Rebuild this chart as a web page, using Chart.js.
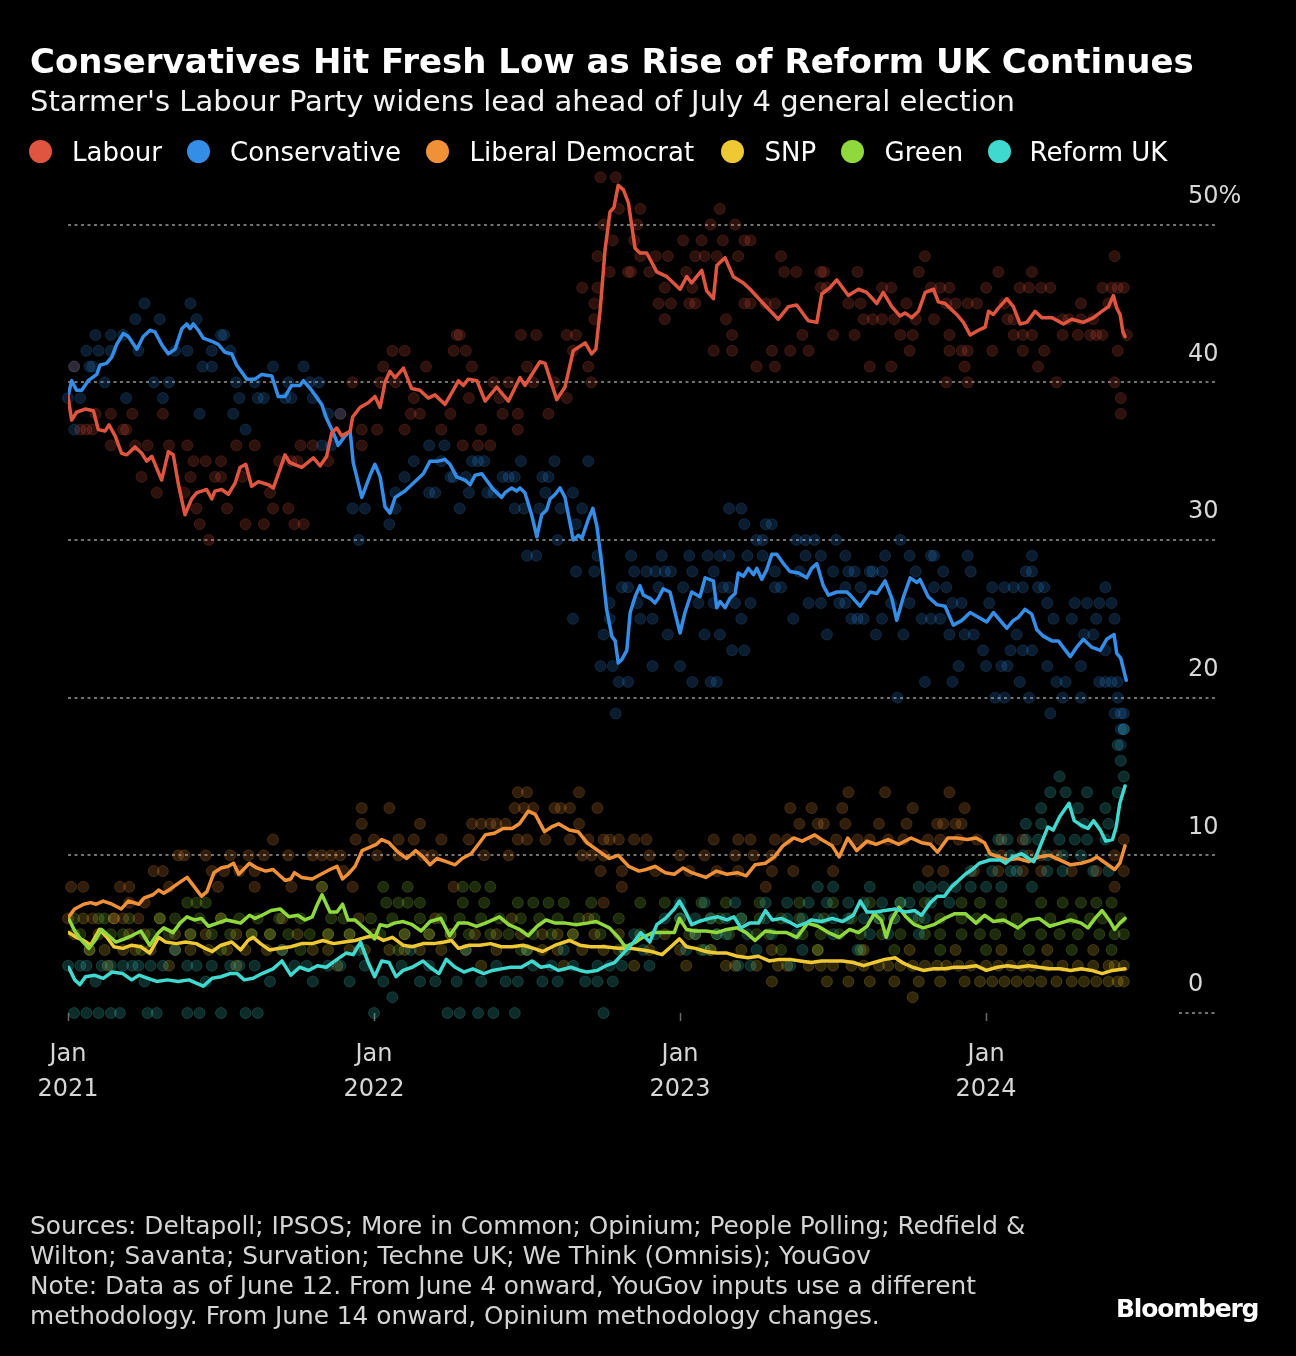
<!DOCTYPE html>
<html>
<head>
<meta charset="utf-8">
<script src="https://cdn.jsdelivr.net/npm/chart.js@4.4.1/dist/chart.umd.min.js"></script>
<style>
  html, body { margin:0; padding:0; background:#000; }
  body { width:1296px; height:1356px; position:relative; overflow:hidden; font-family:'DejaVu Sans', sans-serif; }
  #c { position:absolute; left:0; top:0; }
  .t { position:absolute; white-space:nowrap; z-index:2; line-height:1; }
  #title { left:30px; top:44px; font-size:34px; font-weight:bold; color:#fff; }
  #subtitle { left:30px; top:87px; font-size:29px; color:#f2f2f2; }
  .dot { position:absolute; width:23px; height:23px; border-radius:50%; z-index:2; top:139.5px; }
  .lg { top:139px; font-size:26px; color:#fff; }
  #footer { left:30px; top:1211px; font-size:24.8px; line-height:30px; color:#d4d4d4; }
  #brand { left:1116px; top:1296px; font-size:25px; font-weight:bold; color:#fff; letter-spacing:-1.2px; }
</style>
</head>
<body>
<canvas id="c" width="1296" height="1356"></canvas>
<div class="t" id="title">Conservatives Hit Fresh Low as Rise of Reform UK Continues</div>
<div class="t" id="subtitle">Starmer's Labour Party widens lead ahead of July 4 general election</div>
<div id="legend"></div>
<div class="t" id="footer">Sources: Deltapoll; IPSOS; More in Common; Opinium; People Polling; Redfield &amp;<br>Wilton; Savanta; Survation; Techne UK; We Think (Omnisis); YouGov<br>Note: Data as of June 12. From June 4 onward, YouGov inputs use a different<br>methodology. From June 14 onward, Opinium methodology changes.</div>
<div class="t" id="brand">Bloomberg</div>
<script>
// ---------- DATA ----------
const parties = ['Labour','Conservative','Liberal Democrat','SNP','Green','Reform UK'];
const xTickYears = [2021, 2022, 2023, 2024];
const yTickValues = [0, 10, 20, 30, 40, 50];

// Poll-average lines (x = decimal year, y = %)
const labourX = [2021.000,2021.012,2021.028,2021.056,2021.083,2021.099,2021.121,2021.134,2021.154,2021.175,2021.192,2021.219,2021.241,2021.257,2021.274,2021.306,2021.328,2021.344,2021.360,2021.382,2021.404,2021.421,2021.437,2021.453,2021.470,2021.480,2021.502,2021.524,2021.546,2021.562,2021.581,2021.600,2021.622,2021.655,2021.671,2021.693,2021.709,2021.725,2021.764,2021.802,2021.824,2021.845,2021.862,2021.878,2021.894,2021.922,2021.930,2021.954,2021.981,2022.003,2022.020,2022.036,2022.052,2022.069,2022.096,2022.123,2022.150,2022.177,2022.199,2022.232,2022.259,2022.276,2022.292,2022.308,2022.336,2022.363,2022.401,2022.439,2022.477,2022.493,2022.542,2022.559,2022.597,2022.624,2022.651,2022.690,2022.711,2022.725,2022.739,2022.755,2022.771,2022.784,2022.798,2022.815,2022.831,2022.853,2022.869,2022.891,2022.924,2022.957,2023.000,2023.022,2023.038,2023.071,2023.087,2023.109,2023.120,2023.147,2023.174,2023.207,2023.229,2023.272,2023.321,2023.354,2023.381,2023.419,2023.447,2023.463,2023.490,2023.512,2023.550,2023.583,2023.610,2023.643,2023.664,2023.692,2023.719,2023.735,2023.757,2023.779,2023.801,2023.828,2023.844,2023.866,2023.904,2023.926,2023.948,2023.975,2023.997,2024.008,2024.024,2024.040,2024.068,2024.089,2024.111,2024.133,2024.160,2024.182,2024.215,2024.253,2024.280,2024.318,2024.351,2024.378,2024.400,2024.416,2024.427,2024.438,2024.447,2024.454];
const labourY = [39.1,37.6,38.1,38.3,38.2,37.0,36.9,37.3,36.6,35.5,35.4,35.9,35.5,35.0,35.3,33.8,35.6,35.4,33.6,31.6,32.6,33.0,33.1,33.2,32.6,33.1,33.2,32.9,33.6,34.6,34.8,33.4,33.7,33.5,33.3,34.5,35.4,34.9,34.6,35.2,34.7,35.3,36.8,37.1,36.6,36.9,37.8,38.4,38.7,39.1,38.4,40.0,40.7,40.3,40.9,39.6,39.5,39.0,39.2,38.6,39.5,40.1,39.8,40.2,40.1,38.8,39.7,38.8,40.3,39.8,41.3,41.2,38.9,39.7,42.0,42.5,41.8,42.1,44.6,48.4,50.8,51.1,52.5,52.2,51.4,48.5,48.2,48.2,47.0,46.7,45.9,46.7,46.3,47.1,45.8,45.3,47.4,47.9,46.7,46.3,45.9,45.0,44.0,44.8,44.9,43.9,43.8,45.6,46.0,46.5,45.5,45.9,45.7,45.0,45.7,44.8,44.2,44.4,44.1,44.5,45.7,45.9,45.1,45.0,44.3,43.8,43.0,43.3,43.5,44.5,44.3,44.7,45.3,44.8,43.7,43.8,44.5,44.1,44.1,43.7,44.0,43.8,44.1,44.5,44.8,45.5,44.7,44.3,43.2,42.9];

const conX = [2021.000,2021.012,2021.028,2021.045,2021.066,2021.094,2021.105,2021.126,2021.143,2021.159,2021.181,2021.197,2021.225,2021.246,2021.268,2021.284,2021.306,2021.328,2021.350,2021.372,2021.388,2021.399,2021.409,2021.426,2021.442,2021.470,2021.491,2021.513,2021.535,2021.551,2021.584,2021.611,2021.633,2021.666,2021.687,2021.709,2021.731,2021.758,2021.769,2021.796,2021.829,2021.845,2021.867,2021.883,2021.905,2021.922,2021.932,2021.960,2021.987,2022.003,2022.020,2022.036,2022.052,2022.069,2022.101,2022.128,2022.161,2022.183,2022.210,2022.232,2022.248,2022.270,2022.297,2022.314,2022.330,2022.352,2022.390,2022.417,2022.428,2022.450,2022.466,2022.477,2022.493,2022.515,2022.532,2022.548,2022.564,2022.575,2022.592,2022.608,2022.624,2022.651,2022.668,2022.679,2022.700,2022.715,2022.728,2022.744,2022.760,2022.777,2022.788,2022.798,2022.809,2022.826,2022.837,2022.853,2022.869,2022.880,2022.902,2022.918,2022.929,2022.945,2022.967,2023.000,2023.016,2023.038,2023.065,2023.082,2023.109,2023.120,2023.131,2023.147,2023.163,2023.180,2023.190,2023.207,2023.223,2023.240,2023.251,2023.267,2023.283,2023.300,2023.316,2023.338,2023.359,2023.387,2023.414,2023.430,2023.447,2023.468,2023.485,2023.512,2023.545,2023.556,2023.588,2023.621,2023.643,2023.670,2023.692,2023.708,2023.730,2023.752,2023.774,2023.784,2023.811,2023.839,2023.866,2023.893,2023.921,2023.948,2023.975,2024.002,2024.024,2024.068,2024.089,2024.106,2024.127,2024.149,2024.166,2024.187,2024.215,2024.236,2024.275,2024.296,2024.318,2024.345,2024.373,2024.394,2024.418,2024.427,2024.440,2024.458];
const conY = [39.1,40.1,39.5,39.5,40.1,40.5,41.1,41.2,41.6,42.4,43.1,42.9,42.1,42.9,43.3,43.2,42.4,41.8,42.1,43.4,43.7,43.4,43.7,43.3,42.8,42.6,42.4,41.9,41.8,41.1,40.2,40.2,40.5,40.4,39.1,39.1,39.8,39.8,40.1,39.5,38.6,37.7,36.8,36.0,36.6,36.9,34.9,32.7,34.1,34.8,34.0,32.1,31.7,32.7,33.1,33.6,34.2,35.0,35.0,35.1,34.8,34.0,33.8,33.5,34.1,34.2,33.2,32.7,33.0,33.3,33.1,33.3,33.0,31.6,30.2,31.6,31.9,32.6,32.9,33.3,32.7,30.0,30.3,30.1,31.3,32.0,30.9,28.5,25.6,23.9,23.6,22.2,22.4,23.0,25.4,26.4,27.1,26.5,26.3,26.0,26.3,26.9,26.7,24.1,25.4,26.7,26.4,27.6,27.4,25.7,26.1,25.7,26.3,26.6,27.9,27.7,28.2,27.8,28.2,27.5,28.1,29.1,29.1,28.5,28.0,27.9,27.6,28.2,28.5,27.1,26.5,26.7,26.7,26.5,25.8,26.7,26.6,27.4,26.3,24.9,26.4,27.6,27.3,27.5,26.4,25.9,25.8,24.6,24.9,25.4,25.1,24.8,25.4,24.4,24.9,25.1,25.6,25.3,24.3,23.9,23.6,23.6,22.6,23.2,23.7,23.2,23.0,23.7,24.0,22.8,22.5,21.1];

const libDemX = [2021.002,2021.022,2021.051,2021.074,2021.092,2021.115,2021.144,2021.174,2021.197,2021.232,2021.249,2021.278,2021.296,2021.313,2021.337,2021.366,2021.389,2021.413,2021.436,2021.454,2021.477,2021.500,2021.524,2021.541,2021.558,2021.593,2021.617,2021.646,2021.670,2021.687,2021.710,2021.728,2021.740,2021.763,2021.798,2021.827,2021.856,2021.879,2021.897,2021.915,2021.938,2021.961,2021.985,2022.008,2022.025,2022.049,2022.078,2022.107,2022.136,2022.160,2022.183,2022.206,2022.236,2022.265,2022.288,2022.317,2022.341,2022.364,2022.393,2022.422,2022.451,2022.475,2022.504,2022.527,2022.557,2022.580,2022.603,2022.638,2022.667,2022.696,2022.732,2022.769,2022.798,2022.832,2022.866,2022.889,2022.918,2022.952,2022.981,2023.010,2023.038,2023.084,2023.119,2023.153,2023.187,2023.216,2023.245,2023.279,2023.308,2023.336,2023.371,2023.399,2023.440,2023.462,2023.497,2023.520,2023.548,2023.577,2023.611,2023.640,2023.680,2023.715,2023.755,2023.789,2023.818,2023.841,2023.875,2023.904,2023.938,2023.967,2023.995,2024.013,2024.041,2024.070,2024.104,2024.139,2024.173,2024.208,2024.242,2024.276,2024.311,2024.345,2024.362,2024.391,2024.420,2024.437,2024.454];
const libDemY = [6.1,6.6,6.9,7.0,6.9,7.1,6.9,6.6,7.1,6.9,7.3,7.5,7.8,7.6,7.9,8.3,8.6,8.0,7.4,7.7,8.9,9.2,9.3,9.5,8.8,9.5,9.2,9.0,9.1,8.8,8.4,8.5,8.9,8.6,8.5,8.8,9.1,9.3,8.5,8.8,9.3,10.3,10.5,10.7,11.0,10.8,10.2,9.8,10.3,9.9,9.4,9.8,9.6,9.4,9.8,10.1,10.7,11.3,11.4,11.7,11.7,12.0,12.8,12.6,11.5,11.8,12.0,11.6,11.5,10.8,10.3,9.8,10.0,9.3,9.0,9.1,9.3,8.9,8.8,9.2,8.9,8.6,9.0,8.8,8.9,8.7,9.4,9.5,9.9,10.6,11.1,10.9,11.3,11.0,10.6,9.9,11.1,10.3,10.9,10.7,11.0,10.7,11.1,10.8,10.7,10.2,11.1,11.1,11.0,11.1,10.8,10.1,9.9,9.7,9.8,9.6,9.9,10.0,9.7,9.4,9.5,9.7,9.9,9.5,9.1,9.5,10.6];

const snpX = [2021.002,2021.027,2021.051,2021.074,2021.103,2021.127,2021.150,2021.179,2021.208,2021.238,2021.267,2021.296,2021.319,2021.354,2021.384,2021.419,2021.448,2021.471,2021.500,2021.535,2021.564,2021.588,2021.605,2021.629,2021.658,2021.693,2021.728,2021.763,2021.798,2021.833,2021.868,2021.903,2021.938,2021.973,2022.002,2022.031,2022.060,2022.095,2022.125,2022.160,2022.195,2022.230,2022.253,2022.276,2022.311,2022.346,2022.381,2022.416,2022.451,2022.487,2022.522,2022.551,2022.592,2022.638,2022.673,2022.708,2022.752,2022.798,2022.838,2022.878,2022.907,2022.941,2022.970,2022.998,2023.021,2023.050,2023.084,2023.119,2023.153,2023.187,2023.222,2023.256,2023.291,2023.325,2023.359,2023.393,2023.428,2023.462,2023.497,2023.531,2023.566,2023.600,2023.634,2023.669,2023.703,2023.726,2023.760,2023.795,2023.829,2023.864,2023.898,2023.932,2023.967,2024.001,2024.036,2024.070,2024.104,2024.139,2024.173,2024.208,2024.242,2024.276,2024.311,2024.345,2024.379,2024.413,2024.454];
const snpY = [5.1,4.8,4.6,4.3,5.3,4.8,4.2,4.1,4.3,4.2,3.8,4.8,4.5,4.4,4.5,4.4,4.1,3.9,4.3,4.5,4.0,4.6,4.8,4.4,4.0,4.1,4.2,4.4,4.4,4.6,4.4,4.5,4.6,4.8,4.9,4.6,4.8,4.3,4.2,4.4,4.4,4.5,4.6,4.1,4.3,4.3,4.4,4.2,4.2,4.3,4.1,3.9,4.3,4.6,4.3,4.2,4.2,4.1,4.1,4.0,3.9,3.7,4.2,4.7,4.2,4.1,3.9,3.8,3.8,3.6,3.5,3.6,3.3,3.4,3.4,3.3,3.2,3.3,3.3,3.3,3.2,3.0,3.2,3.4,3.5,3.2,2.9,2.7,2.8,2.8,2.9,2.9,3.0,2.7,2.9,3.0,2.9,3.0,2.9,2.8,2.8,2.7,2.8,2.7,2.5,2.7,2.8];

const greenX = [2021.002,2021.022,2021.045,2021.068,2021.092,2021.109,2021.133,2021.156,2021.185,2021.208,2021.238,2021.267,2021.296,2021.313,2021.343,2021.366,2021.389,2021.413,2021.436,2021.459,2021.489,2021.518,2021.541,2021.564,2021.593,2021.611,2021.634,2021.664,2021.693,2021.722,2021.751,2021.775,2021.798,2021.815,2021.830,2021.856,2021.879,2021.897,2021.915,2021.938,2021.961,2021.985,2022.002,2022.020,2022.043,2022.066,2022.095,2022.125,2022.154,2022.183,2022.218,2022.247,2022.276,2022.306,2022.335,2022.364,2022.410,2022.440,2022.475,2022.504,2022.533,2022.562,2022.592,2022.626,2022.661,2022.696,2022.726,2022.769,2022.798,2022.821,2022.855,2022.878,2022.912,2022.947,2022.981,2022.998,2023.021,2023.050,2023.084,2023.119,2023.153,2023.187,2023.216,2023.245,2023.279,2023.313,2023.348,2023.382,2023.417,2023.451,2023.485,2023.520,2023.554,2023.583,2023.611,2023.634,2023.657,2023.674,2023.691,2023.715,2023.738,2023.766,2023.795,2023.829,2023.864,2023.898,2023.932,2023.967,2023.995,2024.024,2024.058,2024.104,2024.139,2024.173,2024.208,2024.242,2024.276,2024.311,2024.333,2024.356,2024.379,2024.402,2024.420,2024.437,2024.454];
const greenY = [6.0,5.2,4.6,4.1,4.7,5.3,4.9,4.5,4.7,4.9,5.2,4.3,5.1,5.4,5.1,5.7,6.1,5.9,6.0,5.5,5.7,5.9,5.8,5.7,6.2,6.0,6.2,6.5,6.6,6.1,6.2,5.9,6.1,6.9,7.5,6.4,6.4,6.9,5.9,5.9,5.5,5.1,4.7,5.6,5.5,5.7,5.8,5.6,5.2,5.8,6.0,4.9,5.7,5.7,5.5,5.7,6.1,5.6,5.3,4.9,5.5,5.9,5.7,5.7,5.6,5.7,5.8,5.4,4.8,4.2,4.5,4.8,5.1,5.1,5.1,6.0,5.3,5.2,5.2,5.1,5.3,5.4,5.1,4.6,5.2,5.1,5.1,4.8,5.7,5.5,5.1,4.8,5.3,5.1,5.5,6.3,5.9,4.8,5.9,6.7,6.1,5.6,5.4,5.6,6.0,6.3,6.3,5.7,6.2,5.8,5.9,5.4,5.9,6.0,5.5,5.7,5.9,5.7,5.4,6.0,6.5,5.9,5.3,5.7,6.0];

const reformX = [2021.002,2021.022,2021.039,2021.057,2021.086,2021.115,2021.144,2021.179,2021.208,2021.232,2021.261,2021.290,2021.325,2021.360,2021.395,2021.419,2021.442,2021.471,2021.500,2021.529,2021.553,2021.576,2021.605,2021.634,2021.670,2021.699,2021.728,2021.757,2021.786,2021.815,2021.844,2021.879,2021.909,2021.932,2021.956,2021.979,2022.002,2022.025,2022.049,2022.072,2022.095,2022.125,2022.160,2022.183,2022.212,2022.236,2022.265,2022.294,2022.323,2022.358,2022.387,2022.416,2022.446,2022.481,2022.516,2022.545,2022.574,2022.603,2022.644,2022.673,2022.696,2022.729,2022.758,2022.786,2022.815,2022.849,2022.872,2022.901,2022.924,2022.952,2022.981,2022.998,2023.021,2023.038,2023.061,2023.096,2023.124,2023.153,2023.176,2023.199,2023.227,2023.256,2023.279,2023.302,2023.331,2023.354,2023.382,2023.411,2023.428,2023.462,2023.497,2023.531,2023.566,2023.589,2023.611,2023.640,2023.669,2023.703,2023.738,2023.766,2023.789,2023.818,2023.841,2023.864,2023.887,2023.910,2023.932,2023.955,2023.978,2024.013,2024.047,2024.064,2024.087,2024.116,2024.139,2024.156,2024.179,2024.202,2024.219,2024.242,2024.271,2024.288,2024.311,2024.333,2024.351,2024.373,2024.391,2024.413,2024.425,2024.437,2024.454];
const reformY = [2.9,2.1,1.8,2.3,2.4,2.2,2.6,2.5,2.1,2.4,2.2,2.0,2.1,2.0,2.1,1.9,1.7,2.2,2.3,2.5,2.5,2.1,2.2,2.5,2.8,3.3,2.4,2.9,2.7,3.0,2.9,3.4,3.8,3.7,4.5,3.3,2.3,3.3,3.2,2.3,2.7,2.9,3.3,2.9,2.5,3.4,2.9,2.6,2.8,2.5,2.7,2.8,2.9,2.9,3.3,2.9,3.0,2.7,2.9,2.7,2.6,2.7,3.0,3.2,3.8,4.5,5.1,4.5,5.6,6.0,6.6,7.1,6.3,5.6,5.8,6.0,6.1,5.9,6.1,5.4,5.7,5.7,6.5,5.9,6.0,5.8,5.5,5.7,5.9,5.8,6.0,5.8,6.2,7.1,6.4,6.4,6.5,6.6,6.4,6.5,6.2,7.0,7.4,7.4,8.0,8.4,8.8,9.1,9.5,9.7,9.7,9.5,9.9,10.1,9.8,9.6,10.7,11.8,11.6,12.5,13.3,12.2,11.9,11.7,12.2,11.6,10.9,11.0,11.8,13.3,14.4];

// Individual polls: [decimal year, %]
const labourPolls = [[2022.28,43],[2022.06,42],[2022.10,42],[2022.26,42],[2022.30,42],[2021.02,41],[2022.03,41],[2022.17,41],[2022.32,41],[2021.93,40],[2022.02,40],[2022.07,40],[2022.13,39],[2022.31,39],[2021.09,38],[2021.14,38],[2021.21,38],[2021.31,38],[2021.89,38],[2022.12,38],[2022.15,38],[2022.25,38],[2021.04,37],[2021.06,37],[2021.08,37],[2021.18,37],[2021.19,37],[2021.96,37],[2022.01,37],[2022.10,37],[2022.22,37],[2021.14,36],[2021.22,36],[2021.26,36],[2021.33,36],[2021.39,36],[2021.55,36],[2021.61,36],[2021.76,36],[2021.80,36],[2021.96,36],[2022.29,36],[2021.41,35],[2021.45,35],[2021.50,35],[2021.69,35],[2021.73,35],[2021.75,35],[2021.85,35],[2021.24,34],[2021.40,34],[2021.48,34],[2021.50,34],[2021.57,34],[2021.29,33],[2021.38,33],[2021.66,33],[2021.42,32],[2021.52,32],[2021.67,32],[2021.72,32],[2021.43,31],[2021.58,31],[2021.64,31],[2021.74,31],[2021.77,31],[2021.46,30],[2022.74,53],[2022.79,53],[2022.80,51],[2022.87,51],[2023.13,51],[2022.75,50],[2022.86,50],[2023.10,50],[2023.18,50],[2022.78,49],[2022.85,49],[2023.01,49],[2023.07,49],[2023.14,49],[2023.21,49],[2023.23,49],[2022.73,48],[2022.87,48],[2022.92,48],[2022.96,48],[2023.05,48],[2023.08,48],[2023.12,48],[2023.19,48],[2023.33,48],[2023.80,48],[2024.42,48],[2022.77,47],[2022.83,47],[2022.84,47],[2022.90,47],[2023.02,47],[2023.34,47],[2023.38,47],[2023.46,47],[2023.47,47],[2023.58,47],[2023.78,47],[2024.04,47],[2024.15,47],[2022.68,46],[2022.73,46],[2022.95,46],[2023.04,46],[2023.46,46],[2023.48,46],[2023.66,46],[2023.69,46],[2023.82,46],[2023.85,46],[2023.88,46],[2024.00,46],[2024.11,46],[2024.14,46],[2024.18,46],[2024.21,46],[2024.38,46],[2024.41,46],[2024.43,46],[2024.45,46],[2022.72,45],[2022.93,45],[2022.97,45],[2023.03,45],[2023.05,45],[2023.21,45],[2023.23,45],[2023.28,45],[2023.31,45],[2023.55,45],[2023.59,45],[2023.74,45],[2023.87,45],[2023.90,45],[2023.94,45],[2023.97,45],[2024.06,45],[2024.31,45],[2024.40,45],[2022.72,44],[2022.95,44],[2023.15,44],[2023.60,44],[2023.63,44],[2023.66,44],[2023.70,44],[2023.77,44],[2023.83,44],[2024.07,44],[2024.09,44],[2024.25,44],[2024.27,44],[2024.31,44],[2024.35,44],[2022.27,43],[2022.48,43],[2022.53,43],[2022.63,43],[2022.66,43],[2023.17,43],[2023.40,43],[2023.50,43],[2023.57,43],[2023.72,43],[2023.76,43],[2023.88,43],[2024.09,43],[2024.12,43],[2024.15,43],[2024.25,43],[2024.30,43],[2024.34,43],[2024.36,43],[2024.38,43],[2024.46,43],[2022.65,42],[2023.11,42],[2023.17,42],[2023.30,42],[2023.36,42],[2023.42,42],[2023.75,42],[2023.88,42],[2023.92,42],[2023.94,42],[2024.02,42],[2024.12,42],[2024.19,42],[2024.43,42],[2022.50,41],[2022.70,41],[2023.25,41],[2023.31,41],[2023.62,41],[2023.69,41],[2023.93,41],[2024.17,41],[2022.39,40],[2022.44,40],[2022.52,40],[2022.59,40],[2022.71,40],[2023.87,40],[2023.94,40],[2024.23,40],[2024.42,40],[2022.41,39],[2022.63,39],[2024.44,39],[2022.42,38],[2022.47,38],[2022.57,38],[2024.44,38],[2022.35,37],[2022.47,37],[2022.34,36],[2022.38,36]];
const conPolls = [[2021.25,45],[2021.40,45],[2021.22,44],[2021.30,44],[2021.42,44],[2021.09,43],[2021.14,43],[2021.18,43],[2021.50,43],[2021.51,43],[2021.06,42],[2021.10,42],[2021.14,42],[2021.23,42],[2021.35,42],[2021.39,42],[2021.47,42],[2021.53,42],[2021.02,41],[2021.07,41],[2021.08,41],[2021.44,41],[2021.47,41],[2021.67,41],[2021.77,41],[2021.12,40],[2021.28,40],[2021.33,40],[2021.55,40],[2021.61,40],[2021.72,40],[2021.79,40],[2021.82,40],[2021.00,39],[2021.04,39],[2021.19,39],[2021.31,39],[2021.56,39],[2021.62,39],[2021.64,39],[2021.71,39],[2021.73,39],[2021.80,39],[2021.43,38],[2021.54,38],[2021.85,38],[2021.89,38],[2021.02,37],[2021.58,37],[2021.83,36],[2021.86,36],[2022.18,36],[2022.23,36],[2022.13,35],[2022.22,35],[2022.32,35],[2022.34,35],[2022.36,35],[2022.48,35],[2022.59,35],[2022.70,35],[2022.10,34],[2022.25,34],[2022.26,34],[2022.30,34],[2022.42,34],[2022.44,34],[2022.46,34],[2022.55,34],[2022.57,34],[2022.07,33],[2022.18,33],[2022.20,33],[2022.31,33],[2022.37,33],[2022.39,33],[2022.56,33],[2022.65,33],[2021.93,32],[2021.97,32],[2022.07,32],[2022.28,32],[2022.46,32],[2022.49,32],[2022.54,32],[2022.61,32],[2022.68,32],[2023.16,32],[2023.20,32],[2022.05,31],[2022.66,31],[2023.21,31],[2023.28,31],[2023.30,31],[2021.95,30],[2022.60,30],[2023.25,30],[2023.27,30],[2023.38,30],[2023.41,30],[2023.44,30],[2023.51,30],[2023.72,30],[2022.50,29],[2022.53,29],[2022.73,29],[2022.84,29],[2022.94,29],[2023.03,29],[2023.09,29],[2023.13,29],[2023.16,29],[2023.22,29],[2023.27,29],[2023.41,29],[2023.46,29],[2023.54,29],[2023.67,29],[2023.75,29],[2023.82,29],[2023.83,29],[2023.94,29],[2024.15,29],[2022.66,28],[2022.72,28],[2022.85,28],[2022.89,28],[2022.92,28],[2022.95,28],[2022.97,28],[2023.04,28],[2023.11,28],[2023.31,28],[2023.39,28],[2023.50,28],[2023.55,28],[2023.57,28],[2023.62,28],[2023.63,28],[2023.66,28],[2023.77,28],[2023.86,28],[2023.95,28],[2024.13,28],[2024.15,28],[2022.81,27],[2022.83,27],[2022.93,27],[2023.01,27],[2023.09,27],[2023.14,27],[2023.16,27],[2023.31,27],[2023.33,27],[2023.54,27],[2023.59,27],[2023.83,27],[2023.87,27],[2024.02,27],[2024.06,27],[2024.09,27],[2024.12,27],[2024.17,27],[2024.19,27],[2024.39,27],[2022.77,26],[2022.86,26],[2023.06,26],[2023.11,26],[2023.18,26],[2023.23,26],[2023.42,26],[2023.46,26],[2023.52,26],[2023.54,26],[2023.69,26],[2023.75,26],[2023.89,26],[2023.92,26],[2024.01,26],[2024.20,26],[2024.29,26],[2024.33,26],[2024.37,26],[2024.41,26],[2022.65,25],[2022.77,25],[2022.87,25],[2022.91,25],[2023.20,25],[2023.37,25],[2023.56,25],[2023.58,25],[2023.60,25],[2023.66,25],[2023.79,25],[2023.82,25],[2023.85,25],[2024.22,25],[2024.28,25],[2024.36,25],[2024.42,25],[2022.75,24],[2022.96,24],[2023.08,24],[2023.13,24],[2023.48,24],[2023.64,24],[2023.73,24],[2023.88,24],[2023.93,24],[2023.96,24],[2024.10,24],[2024.32,24],[2024.35,24],[2023.17,23],[2023.21,23],[2023.99,23],[2024.08,23],[2024.12,23],[2024.15,23],[2024.39,23],[2022.74,22],[2022.78,22],[2022.91,22],[2023.00,22],[2023.91,22],[2024.00,22],[2024.05,22],[2024.07,22],[2024.20,22],[2024.31,22],[2022.80,21],[2022.83,21],[2023.04,21],[2023.10,21],[2023.12,21],[2023.80,21],[2023.89,21],[2024.11,21],[2024.23,21],[2024.26,21],[2024.37,21],[2024.39,21],[2024.41,21],[2024.43,21],[2023.71,20],[2024.03,20],[2024.06,20],[2024.14,20],[2024.25,20],[2024.31,20],[2024.43,20],[2022.79,19],[2024.21,19],[2024.42,19],[2024.44,19],[2024.45,19],[2024.44,18],[2024.45,18],[2024.44,17]];
const libDemPolls = [[2022.47,14],[2022.50,14],[2022.67,14],[2023.55,14],[2023.67,14],[2023.88,14],[2021.96,13],[2022.05,13],[2022.46,13],[2022.49,13],[2022.52,13],[2022.59,13],[2022.61,13],[2022.64,13],[2022.73,13],[2023.36,13],[2023.43,13],[2023.53,13],[2023.76,13],[2023.93,13],[2021.96,12],[2022.15,12],[2022.32,12],[2022.35,12],[2022.38,12],[2022.40,12],[2022.43,12],[2022.67,12],[2023.39,12],[2023.45,12],[2023.47,12],[2023.54,12],[2023.65,12],[2023.74,12],[2023.84,12],[2023.86,12],[2023.90,12],[2023.92,12],[2021.67,11],[2021.94,11],[2022.00,11],[2022.08,11],[2022.13,11],[2022.22,11],[2022.31,11],[2022.47,11],[2022.50,11],[2022.56,11],[2022.64,11],[2022.70,11],[2022.75,11],[2022.77,11],[2022.80,11],[2022.85,11],[2022.89,11],[2023.11,11],[2023.19,11],[2023.23,11],[2023.31,11],[2023.35,11],[2023.44,11],[2023.51,11],[2023.58,11],[2023.62,11],[2023.68,11],[2023.73,11],[2023.81,11],[2023.85,11],[2023.91,11],[2023.97,11],[2024.05,11],[2024.12,11],[2024.45,11],[2021.36,10],[2021.38,10],[2021.45,10],[2021.53,10],[2021.59,10],[2021.64,10],[2021.72,10],[2021.80,10],[2021.83,10],[2021.86,10],[2021.89,10],[2022.01,10],[2022.08,10],[2022.16,10],[2022.19,10],[2022.36,10],[2022.44,10],[2022.68,10],[2022.71,10],[2022.75,10],[2022.90,10],[2023.00,10],[2023.08,10],[2023.18,10],[2023.24,10],[2023.30,10],[2024.05,10],[2024.14,10],[2024.18,10],[2024.23,10],[2024.42,10],[2021.28,9],[2021.31,9],[2021.47,9],[2021.51,9],[2021.56,9],[2021.61,9],[2021.90,9],[2022.74,9],[2022.81,9],[2022.92,9],[2023.03,9],[2023.12,9],[2023.19,9],[2023.30,9],[2023.37,9],[2023.50,9],[2023.81,9],[2023.86,9],[2023.96,9],[2024.04,9],[2024.12,9],[2024.18,9],[2024.28,9],[2024.36,9],[2024.45,9],[2021.01,8],[2021.05,8],[2021.17,8],[2021.20,8],[2021.33,8],[2021.49,8],[2021.61,8],[2021.73,8],[2021.83,8],[2021.93,8],[2022.26,8],[2022.81,8],[2023.28,8],[2024.42,8],[2021.20,7],[2021.25,7],[2022.75,7],[2021.00,6],[2021.08,6],[2021.15,6],[2021.18,6],[2021.23,6]];
const greenPolls = [[2021.83,8],[2022.03,8],[2022.11,8],[2022.29,8],[2022.33,8],[2022.38,8],[2021.39,7],[2021.42,7],[2021.45,7],[2022.04,7],[2022.08,7],[2022.11,7],[2022.15,7],[2022.29,7],[2022.36,7],[2022.47,7],[2022.52,7],[2022.57,7],[2022.62,7],[2022.71,7],[2022.87,7],[2022.95,7],[2023.07,7],[2023.15,7],[2023.26,7],[2023.39,7],[2023.50,7],[2023.62,7],[2023.72,7],[2023.80,7],[2023.92,7],[2023.98,7],[2024.05,7],[2024.18,7],[2024.25,7],[2024.31,7],[2024.36,7],[2024.41,7],[2021.02,6],[2021.10,6],[2021.12,6],[2021.20,6],[2021.30,6],[2021.35,6],[2021.43,6],[2021.50,6],[2021.56,6],[2021.62,6],[2021.69,6],[2021.76,6],[2021.86,6],[2021.90,6],[2021.99,6],[2022.06,6],[2022.15,6],[2022.22,6],[2022.28,6],[2022.35,6],[2022.41,6],[2022.48,6],[2022.54,6],[2022.60,6],[2022.67,6],[2022.72,6],[2022.80,6],[2023.00,6],[2023.10,6],[2023.13,6],[2023.20,6],[2023.26,6],[2023.33,6],[2023.39,6],[2023.47,6],[2023.56,6],[2023.65,6],[2023.70,6],[2023.78,6],[2023.85,6],[2023.92,6],[2023.97,6],[2024.05,6],[2024.10,6],[2024.21,6],[2024.28,6],[2024.34,6],[2024.38,6],[2024.44,6],[2021.04,5],[2021.14,5],[2021.18,5],[2021.27,5],[2021.33,5],[2021.40,5],[2021.47,5],[2021.53,5],[2021.60,5],[2021.66,5],[2021.72,5],[2021.79,5],[2021.85,5],[2021.92,5],[2022.02,5],[2022.10,5],[2022.18,5],[2022.25,5],[2022.31,5],[2022.38,5],[2022.44,5],[2022.52,5],[2022.58,5],[2022.65,5],[2022.74,5],[2022.87,5],[2023.03,5],[2023.12,5],[2023.16,5],[2023.25,5],[2023.29,5],[2023.40,5],[2023.46,5],[2023.52,5],[2023.59,5],[2023.66,5],[2023.72,5],[2023.80,5],[2023.85,5],[2023.92,5],[2023.98,5],[2024.03,5],[2024.11,5],[2024.18,5],[2024.24,5],[2024.30,5],[2024.37,5],[2024.42,5],[2024.45,5],[2021.07,4],[2021.24,4],[2021.50,4],[2021.76,4],[2022.08,4],[2022.48,4],[2022.80,4],[2023.07,4],[2023.10,4],[2023.33,4],[2023.45,4],[2023.59,4],[2023.70,4],[2023.85,4],[2024.00,4],[2024.14,4],[2024.28,4],[2024.41,4]];
const snpPolls = [[2021.05,6],[2021.15,6],[2021.30,6],[2021.50,6],[2021.70,6],[2021.95,6],[2022.20,6],[2022.45,6],[2022.70,6],[2021.02,5],[2021.10,5],[2021.20,5],[2021.25,5],[2021.35,5],[2021.40,5],[2021.45,5],[2021.55,5],[2021.60,5],[2021.66,5],[2021.75,5],[2021.85,5],[2021.92,5],[2022.00,5],[2022.10,5],[2022.18,5],[2022.25,5],[2022.33,5],[2022.40,5],[2022.48,5],[2022.55,5],[2022.60,5],[2022.65,5],[2022.72,5],[2022.80,5],[2022.95,5],[2023.05,5],[2021.07,4],[2021.12,4],[2021.18,4],[2021.22,4],[2021.27,4],[2021.35,4],[2021.40,4],[2021.46,4],[2021.52,4],[2021.58,4],[2021.65,4],[2021.70,4],[2021.80,4],[2021.85,4],[2021.92,4],[2021.97,4],[2022.05,4],[2022.10,4],[2022.15,4],[2022.22,4],[2022.30,4],[2022.40,4],[2022.50,4],[2022.55,4],[2022.60,4],[2022.68,4],[2022.75,4],[2022.82,4],[2022.90,4],[2023.00,4],[2023.10,4],[2023.20,4],[2023.30,4],[2023.45,4],[2023.60,4],[2023.75,4],[2023.90,4],[2024.05,4],[2024.20,4],[2024.35,4],[2021.13,3],[2021.33,3],[2021.55,3],[2021.88,3],[2022.35,3],[2022.62,3],[2022.85,3],[2023.02,3],[2023.15,3],[2023.18,3],[2023.25,3],[2023.32,3],[2023.35,3],[2023.42,3],[2023.46,3],[2023.50,3],[2023.56,3],[2023.60,3],[2023.65,3],[2023.68,3],[2023.72,3],[2023.76,3],[2023.80,3],[2023.84,3],[2023.87,3],[2023.91,3],[2023.95,3],[2024.00,3],[2024.04,3],[2024.08,3],[2024.12,3],[2024.15,3],[2024.20,3],[2024.25,3],[2024.30,3],[2024.35,3],[2024.40,3],[2024.42,3],[2024.45,3],[2023.30,2],[2023.48,2],[2023.55,2],[2023.62,2],[2023.70,2],[2023.78,2],[2023.85,2],[2023.93,2],[2023.98,2],[2024.02,2],[2024.06,2],[2024.10,2],[2024.14,2],[2024.18,2],[2024.23,2],[2024.28,2],[2024.32,2],[2024.36,2],[2024.40,2],[2024.43,2],[2024.45,2],[2023.76,1]];
const reformPolls = [[2021.02,0],[2021.06,0],[2021.10,0],[2021.14,0],[2021.17,0],[2021.26,0],[2021.29,0],[2021.39,0],[2021.43,0],[2021.50,0],[2021.58,0],[2021.62,0],[2022.00,0],[2022.24,0],[2022.28,0],[2022.34,0],[2022.39,0],[2022.46,0],[2022.75,0],[2022.06,1],[2021.09,2],[2021.25,2],[2021.45,2],[2021.66,2],[2021.80,2],[2021.92,2],[2022.03,2],[2022.15,2],[2022.20,2],[2022.27,2],[2022.35,2],[2022.43,2],[2022.47,2],[2022.55,2],[2022.60,2],[2022.69,2],[2022.73,2],[2022.78,2],[2021.00,3],[2021.04,3],[2021.06,3],[2021.11,3],[2021.14,3],[2021.18,3],[2021.21,3],[2021.23,3],[2021.27,3],[2021.31,3],[2021.39,3],[2021.42,3],[2021.47,3],[2021.53,3],[2021.56,3],[2021.61,3],[2021.74,3],[2021.78,3],[2021.85,3],[2021.89,3],[2021.97,3],[2022.09,3],[2022.18,3],[2022.40,3],[2022.52,3],[2022.58,3],[2022.65,3],[2022.73,3],[2022.77,3],[2022.81,3],[2022.90,3],[2023.19,3],[2023.23,3],[2023.36,3],[2021.35,4],[2021.70,4],[2021.95,4],[2022.12,4],[2022.30,4],[2022.50,4],[2022.62,4],[2022.82,4],[2022.88,4],[2023.02,4],[2023.08,4],[2023.25,4],[2023.40,4],[2023.58,4],[2022.85,5],[2022.92,5],[2023.05,5],[2023.12,5],[2023.15,5],[2023.22,5],[2023.30,5],[2023.38,5],[2023.50,5],[2023.62,5],[2023.68,5],[2023.78,5],[2022.95,6],[2023.00,6],[2023.05,6],[2023.10,6],[2023.15,6],[2023.20,6],[2023.28,6],[2023.35,6],[2023.40,6],[2023.45,6],[2023.50,6],[2023.55,6],[2023.60,6],[2023.65,6],[2023.70,6],[2023.76,6],[2023.80,6],[2023.00,7],[2023.08,7],[2023.18,7],[2023.28,7],[2023.35,7],[2023.42,7],[2023.48,7],[2023.55,7],[2023.60,7],[2023.66,7],[2023.72,7],[2023.75,7],[2023.82,7],[2023.88,7],[2023.45,8],[2023.50,8],[2023.62,8],[2023.78,8],[2023.82,8],[2023.86,8],[2023.90,8],[2023.95,8],[2024.00,8],[2024.05,8],[2024.15,8],[2023.95,9],[2024.02,9],[2024.08,9],[2024.10,9],[2024.20,9],[2024.25,9],[2024.35,9],[2024.40,9],[2024.02,10],[2024.08,10],[2024.12,10],[2024.20,10],[2024.25,10],[2024.31,10],[2024.04,11],[2024.07,11],[2024.13,11],[2024.17,11],[2024.24,11],[2024.29,11],[2024.33,11],[2024.39,11],[2024.13,12],[2024.18,12],[2024.32,12],[2024.40,12],[2024.18,13],[2024.30,13],[2024.39,13],[2024.21,14],[2024.26,14],[2024.33,14],[2024.43,14],[2024.24,15],[2024.45,15],[2024.44,16],[2024.43,17],[2024.45,18]];

// ---------- STYLE ----------
const colors = {
  'Labour':'#e0553f', 'Conservative':'#348ee8', 'Liberal Democrat':'#f09137',
  'SNP':'#efc933', 'Green':'#8fd93c', 'Reform UK':'#3fd9cf'
};
const rgb = {
  'Labour':'224,85,63', 'Conservative':'52,142,232', 'Liberal Democrat':'240,145,55',
  'SNP':'239,201,51', 'Green':'143,217,60', 'Reform UK':'63,217,207'
};
const legendPos = [[40.5,72],[198.5,230],[437,469.5],[732.6,764.5],[852,884.5],[999,1029.5]];
const legend = document.getElementById('legend');
parties.forEach((p,i)=>{
  const d = document.createElement('div'); d.className='dot';
  d.style.left = (legendPos[i][0]-11.5)+'px'; d.style.background = colors[p];
  legend.appendChild(d);
  const t = document.createElement('div'); t.className='t lg';
  t.style.left = legendPos[i][1]+'px'; t.textContent = p;
  legend.appendChild(t);
});

function lineDs(p, xs, ys) {
  return { type:'line', label:p, data: xs.map((x,i)=>({x, y: ys[i]})), borderColor: colors[p],
    borderWidth: 3.5, pointRadius: 0, tension: 0, fill:false, borderJoinStyle:'round', borderCapStyle:'round', order: 1 };
}
function dotDs(p, polls) {
  return { type:'scatter', label:p+' polls', data: polls.map(q=>({x:q[0], y:q[1]})),
    backgroundColor:`rgba(${rgb[p]},0.2)`, borderColor:`rgba(${rgb[p]},0.2)`, borderWidth:1,
    pointRadius:5.5, pointHoverRadius:5.5, clip:false, order: 10 };
}

const gridColor = '#727272';
const zeroStub = {
  id:'zeroStub',
  beforeDatasetsDraw(chart) {
    const {ctx, chartArea, scales:{y}} = chart;
    const py = y.getPixelForValue(0);
    ctx.save(); ctx.strokeStyle = gridColor; ctx.lineWidth = 2; ctx.setLineDash([3,3.5]);
    ctx.beginPath(); ctx.moveTo(chartArea.right-36, py); ctx.lineTo(chartArea.right, py); ctx.stroke(); ctx.restore();
  }
};
// y tick labels: left-aligned just inside the plot's right edge, sitting above each gridline
const yLabels = {
  id:'yLabels',
  afterDatasetsDraw(chart) {
    const {ctx, chartArea, scales:{y}} = chart;
    ctx.save();
    ctx.fillStyle = '#d8d8d8'; ctx.font = "24px 'DejaVu Sans', sans-serif";
    ctx.textAlign = 'left'; ctx.textBaseline = 'middle';
    yTickValues.forEach(v => {
      ctx.fillText(v === 50 ? '50%' : String(v), chartArea.right - 27, y.getPixelForValue(v) - 28);
    });
    ctx.restore();
  }
};

Chart.defaults.font.family = "'DejaVu Sans', sans-serif";
new Chart(document.getElementById('c'), {
  type:'line',
  data:{ datasets:[
    dotDs('Reform UK', reformPolls), dotDs('Green', greenPolls), dotDs('SNP', snpPolls),
    dotDs('Liberal Democrat', libDemPolls), dotDs('Conservative', conPolls), dotDs('Labour', labourPolls),
    lineDs('Labour', labourX, labourY), lineDs('Conservative', conX, conY),
    lineDs('Reform UK', reformX, reformY), lineDs('Liberal Democrat', libDemX, libDemY),
    lineDs('Green', greenX, greenY), lineDs('SNP', snpX, snpY)
  ]},
  options:{
    responsive:false, animation:false, devicePixelRatio:1, events:[],
    layout:{ padding:{ left:68, right:31, top:130, bottom:243 } },
    plugins:{ legend:{display:false}, tooltip:{enabled:false} },
    scales:{
      x:{ type:'linear', min:2021, max:2024.748,
        afterBuildTicks: s => { s.ticks = xTickYears.map(v=>({value:v})); },
        afterFit: s => { s.height = 100; },
        grid:{ display:true, drawOnChartArea:false, drawTicks:true, tickLength:8, tickColor:'#6a6a6a', tickWidth:1.5 },
        border:{ display:false },
        ticks:{ color:'#d6d6d6', font:{ size:24, lineHeight:1.458 }, padding:16, maxRotation:0, autoSkip:false,
          callback: v => ['Jan', String(v)] }
      },
      y:{ type:'linear', position:'right', min:0, max:56,
        afterBuildTicks: s => { s.ticks = yTickValues.map(v=>({value:v})); },
        afterFit: s => { s.width = 50; },
        grid:{ color: c => (c.tick && c.tick.value === 0) ? 'rgba(0,0,0,0)' : gridColor, lineWidth:2, drawTicks:false },
        border:{ display:false, dash:[3,3.5] },
        ticks:{ display:false }
      }
    }
  },
  plugins:[zeroStub, yLabels]
});
</script>
</body>
</html>
